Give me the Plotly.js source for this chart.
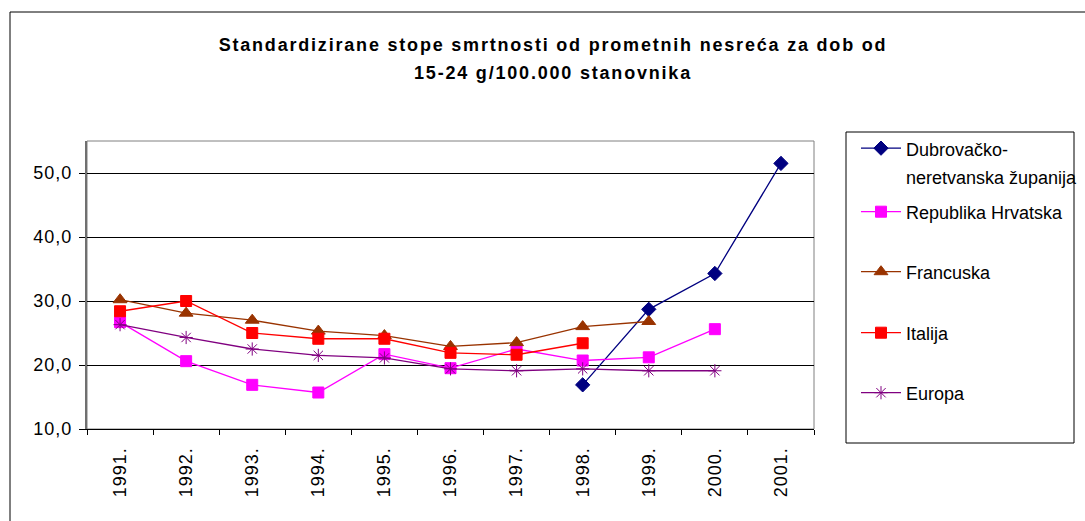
<!DOCTYPE html>
<html>
<head>
<meta charset="utf-8">
<script src="https://cdn.plot.ly/plotly-3.0.1.min.js"></script>
<style>
  html, body { margin: 0; padding: 0; background: #fff; }
  #chart { width: 1085px; height: 521px; }
  #chart .gtitle { letter-spacing: 1.8px; }
  #chart .xtick text { letter-spacing: 1px; }
  #chart .ytick text { letter-spacing: 1px; }
</style>
</head>
<body>
<div id="chart"></div>
<script>
const years = ["1991.", "1992.", "1993.", "1994.", "1995.", "1996.", "1997.", "1998.", "1999.", "2000.", "2001."];
const dubrovnik = [null, null, null, null, null, null, null, 16.9, 28.7, 34.3, 51.5];
const hrvatska  = [26.7, 20.6, 16.9, 15.7, 21.7, 19.5, 22.5, 20.7, 21.2, 25.6, null];
const francuska = [30.2, 28.1, 27.0, 25.3, 24.6, 22.9, 23.5, 26.0, 26.8, null, null];
const italija   = [28.4, 30.0, 25.0, 24.1, 24.1, 21.9, 21.6, 23.4, null, null, null];
const europa    = [26.3, 24.3, 22.5, 21.5, 21.1, 19.4, 19.1, 19.4, 19.1, 19.1, null];

const names = ["Dubrovačko-<br>neretvanska županija", "Republika Hrvatska", "Francuska", "Italija", "Europa"];
const titleLine1 = "Standardizirane stope smrtnosti od prometnih nesreća za dob od";
const titleLine2 = "15-24 g/100.000 stanovnika";

const FONT = "Arial, 'Liberation Sans', sans-serif";

function tr(y, name, color, symbol, size, legendId) {
  return {
    type: "scatter", mode: "lines+markers", x: years, y: y, name: name,
    line: { color: color, width: 1.3 },
    marker: { color: color, symbol: symbol, size: size, line: { color: color, width: 1 } },
    connectgaps: false, legend: legendId, hoverinfo: "skip"
  };
}

const data = [
  tr(dubrovnik, "<span style='font-size:18px'>Dubrovačko-</span><br><span style='font-size:18px'>neretvanska županija</span>", "#000080", "diamond", 11, "legend"),
  tr(hrvatska, names[1], "#FF00FF", "square", 11, "legend2"),
  tr(francuska, names[2], "#993300", "triangle-up", 12, "legend3"),
  tr(italija, names[3], "#FF0000", "square", 11, "legend4"),
  tr(europa, names[4], "#800080", "asterisk-open", 11, "legend5")
];

// plot area px: x 87..814, y 141..429
const L = 87, R = 814, T = 141, B = 429;
const W = R - L, H = B - T;
const px = v => (v - L) / W;
const py = v => (B - v) / H;
const LEGX = 856;

function leg(yPix) {
  return {
    x: px(LEGX), xanchor: "left", y: py(yPix), yanchor: "middle",
    bgcolor: "rgba(0,0,0,0)", borderwidth: 0, itemwidth: 40, valign: "middle",
    font: { family: FONT, size: 18, color: "#000" }
  };
}

const layout = {
  width: 1085, height: 521,
  margin: { l: L, r: 1085 - R, t: T, b: 521 - B, pad: 0, autoexpand: false },
  paper_bgcolor: "#fff", plot_bgcolor: "#fff",
  font: { family: FONT, size: 18, color: "#000" },
  separators: ",.",
  title: {
    text: "<span style='font-size:18px'><b>" + titleLine1 + "</b></span><br><span style='font-size:18px'><b>" + titleLine2 + "</b></span>",
    font: { family: FONT, size: 22, color: "#000" },
    x: px(553), xref: "paper", xanchor: "center",
    y: 1 - 50.5 / 521, yref: "container", yanchor: "middle"
  },
  xaxis: {
    type: "category", range: [-0.5, 10.5], tickmode: "array", tickvals: years, ticktext: years,
    tickangle: -90, tickson: "boundaries", ticks: "outside", ticklen: 5, tickcolor: "#000",
    ticklabelstandoff: 10,
    showline: true, linecolor: "#000", linewidth: 1, showgrid: false, zeroline: false,
    tickfont: { family: FONT, size: 18, color: "#000" }, fixedrange: true, automargin: false
  },
  yaxis: {
    range: [10, 55], tick0: 10, dtick: 10, tickformat: ".1f",
    ticks: "outside", ticklen: 6, tickcolor: "#000", ticklabelstandoff: 3,
    showline: true, linecolor: "#707070", linewidth: 2,
    showgrid: true, gridcolor: "#000", gridwidth: 1, zeroline: false,
    tickfont: { family: FONT, size: 18, color: "#000" }, fixedrange: true, automargin: false
  },
  showlegend: true,
  legend: {
    x: px(LEGX), xanchor: "left", y: py(128), yanchor: "top",
    bgcolor: "rgba(0,0,0,0)", borderwidth: 0, itemwidth: 40, valign: "top",
    font: { family: FONT, size: 21, color: "#000" }
  },
  legend2: leg(212),
  legend3: leg(272),
  legend4: leg(333),
  legend5: leg(393),
  shapes: [
    { type: "rect", xref: "paper", yref: "paper", x0: px(10), x1: px(1100), y0: py(540), y1: py(12),
      line: { color: "#000", width: 1 }, fillcolor: "rgba(0,0,0,0)", layer: "below" },
    { type: "rect", xref: "paper", yref: "paper", x0: 0, x1: 1, y0: 0, y1: 1,
      line: { color: "#808080", width: 1 }, fillcolor: "rgba(0,0,0,0)", layer: "below" },
    { type: "rect", xref: "paper", yref: "paper", x0: px(846), x1: px(1074), y0: py(443), y1: py(132),
      line: { color: "#000", width: 1 }, fillcolor: "rgba(0,0,0,0)", layer: "below" }
  ]
};

Plotly.newPlot("chart", data, layout, { staticPlot: true, displayModeBar: false });
</script>
</body>
</html>
